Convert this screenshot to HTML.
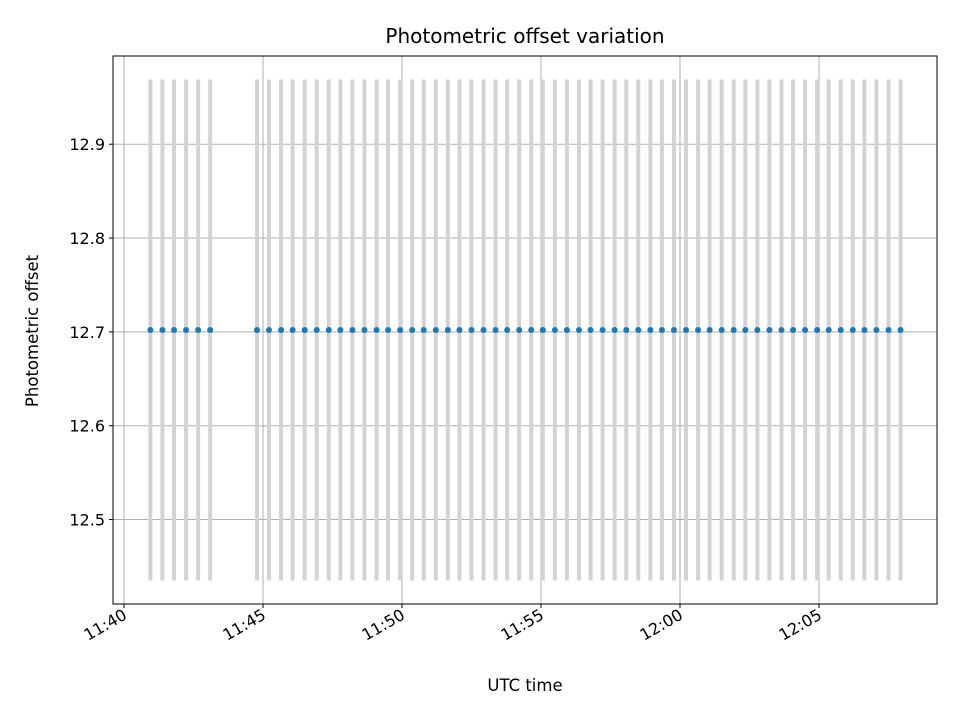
<!DOCTYPE html>
<html><head><meta charset="utf-8"><style>
body{margin:0;background:#fff;font-family:"Liberation Sans","DejaVu Sans",sans-serif}
svg text{font-family:"DejaVu Sans","Liberation Sans",sans-serif}
</style></head><body>
<svg id="chart" width="960" height="720" xmlns="http://www.w3.org/2000/svg">
<rect width="960" height="720" fill="#fff"/>
<text x="525" y="43" text-anchor="middle" font-size="20">Photometric offset variation</text>
<g id="grid"></g><g id="bars"></g><g id="pts"></g><g id="ticks"></g>
<rect x="113" y="56" width="824" height="548" fill="none" stroke="#000" stroke-width="1"/>
<text x="525" y="691" text-anchor="middle" font-size="16.5">UTC time</text>
<text transform="translate(38,331) rotate(-90)" text-anchor="middle" font-size="16.5">Photometric offset</text>
</svg>
<script>
// seconds after 11:40:00
const times=[57,83,108,134,160,186,287,313,339,364,390,416,442,467,493,519,545,570,596,622,647,673,699,724,750,776,802,827,853,879,904,930,956,982,1007,1033,1059,1084,1110,1136,1161,1187,1213,1239,1264,1290,1316,1341,1367,1393,1419,1444,1470,1496,1521,1547,1573,1598,1624,1650,1676];
const offsets=times.map(()=>12.702);
const errors=times.map(()=>0.267);
const xTickSecs=[0,300,600,900,1200,1500];
const xTickLabels=["11:40","11:45","11:50","11:55","12:00","12:05"];
const yTicks=[12.5,12.6,12.7,12.8,12.9];
const X0=113,X1=937,Y0=604,Y1=56,tMin=-23.7,tMax=1754.7,vMin=12.410,vMax=12.994;
const sx=t=>X0+(t-tMin)/(tMax-tMin)*(X1-X0);
const sy=v=>Y0-(v-vMin)/(vMax-vMin)*(Y0-Y1);
const NS="http://www.w3.org/2000/svg";
function mk(tag,attrs,parent){const e=document.createElementNS(NS,tag);for(const k in attrs)e.setAttribute(k,attrs[k]);document.getElementById(parent).appendChild(e);return e;}
xTickSecs.forEach((s,i)=>{const x=sx(s);
 const g=mk('line',{x1:x,x2:x,y1:Y1,y2:Y0,stroke:'#b0b0b0','stroke-width':1},'grid');
 
 
 const t=mk('line',{x1:x,x2:x,y1:Y0,y2:Y0+4,stroke:'#000'},'ticks');
 
 
 const ax=x+4, ay=Y0+14;
 const l=mk('text',{x:ax,y:ay,'text-anchor':'end','font-size':16,transform:`rotate(-30 ${ax} ${ay})`},'ticks');
 l.textContent=xTickLabels[i];
 
 
});
yTicks.forEach(v=>{const y=sy(v);
 const g=mk('line',{x1:X0,x2:X1,y1:y,y2:y,stroke:'#b0b0b0','stroke-width':1},'grid');
 
 
 const t=mk('line',{x1:X0-4,x2:X0,y1:y,y2:y,stroke:'#000'},'ticks');
 
 
 const l=mk('text',{x:X0-8,y:y+6,'text-anchor':'end','font-size':16},'ticks');
 l.textContent=v.toFixed(1);
 
 
});
times.forEach((t,i)=>{const x=sx(t);
 const b=mk('line',{x1:x,x2:x,y1:sy(offsets[i]+errors[i]),y2:sy(offsets[i]-errors[i]),stroke:'#d3d3d3','stroke-width':4},'bars');
 
 
 const c=mk('circle',{cx:x,cy:sy(offsets[i]),r:3,fill:'#1f77b4'},'pts');
 
 
});
</script>
</body></html>
